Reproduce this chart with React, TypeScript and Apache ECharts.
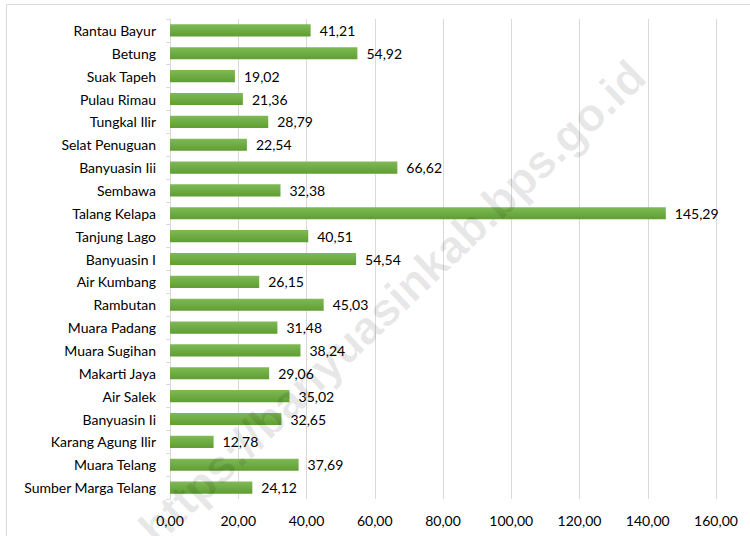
import React, { useEffect, useRef } from "react";
import * as echarts from "echarts";

const categories = [
  "Rantau Bayur", "Betung", "Suak Tapeh", "Pulau Rimau", "Tungkal Ilir",
  "Selat Penuguan", "Banyuasin Iii", "Sembawa", "Talang Kelapa", "Tanjung Lago",
  "Banyuasin I", "Air Kumbang", "Rambutan", "Muara Padang", "Muara Sugihan",
  "Makarti Jaya", "Air Salek", "Banyuasin Ii", "Karang Agung Ilir", "Muara Telang",
  "Sumber Marga Telang",
];
const values = [
  41.21, 54.92, 19.02, 21.36, 28.79, 22.54, 66.62, 32.38, 145.29, 40.51,
  54.54, 26.15, 45.03, 31.48, 38.24, 29.06, 35.02, 32.65, 12.78, 37.69, 24.12,
];
const xMin = 0;
const xMax = 160;
const xStep = 20;
const watermark = "https://banyuasinkab.bps.go.id";

const fmt = (v: number) => v.toFixed(2).replace(".", ",");
const FONT = "Lato, 'Noto Sans', sans-serif";

export default function App() {
  const ref = useRef<HTMLDivElement>(null);
  useEffect(() => {
    document.body.style.margin = "0";
    const chart = echarts.init(ref.current!, null, { renderer: "svg" });
    chart.setOption({
      animation: false,
      backgroundColor: "#ffffff",
      grid: { left: 170, right: 34, top: 19, bottom: 37, containLabel: false },
      xAxis: {
        type: "value",
        min: xMin,
        max: xMax,
        interval: xStep,
        axisLine: { show: false },
        axisTick: { show: false },
        splitLine: { lineStyle: { color: "#d9d9d9", width: 1 } },
        axisLabel: {
          formatter: (v: number) => fmt(v),
          color: "#000000",
          fontSize: 14,
          fontFamily: FONT,
          margin: 14,
        },
      },
      yAxis: {
        type: "category",
        data: categories,
        inverse: true,
        axisLine: { show: true, lineStyle: { color: "#d9d9d9" } },
        axisTick: { show: true, length: 4, lineStyle: { color: "#d9d9d9" } },
        axisLabel: {
          color: "#000000",
          fontSize: 14,
          fontFamily: FONT,
          margin: 14,
        },
      },
      series: [
        {
          type: "bar",
          data: values,
          barCategoryGap: "47%",
          itemStyle: {
            color: new echarts.graphic.LinearGradient(0, 0, 0, 1, [
              { offset: 0, color: "#7fba55" },
              { offset: 1, color: "#5f9e32" },
            ]),
          },
          label: {
            show: true,
            position: "right",
            distance: 9,
            formatter: (p: any) => fmt(p.value),
            color: "#000000",
            fontSize: 14,
            fontFamily: FONT,
          },
        },
      ],
      graphic: [
        {
          type: "rect",
          left: 4,
          top: 2,
          shape: { width: 760, height: 560 },
          style: { fill: "none", stroke: "#d9d9d9", lineWidth: 1 },
          silent: true,
          z: -1,
        },
        {
          type: "text",
          x: 392,
          y: 302,
          rotation: 0.76,
          z: 100,
          silent: true,
          style: {
            text: watermark,
            fill: "rgba(0,0,0,0.09)",
            font: "bold 46px 'Liberation Sans', Arial, sans-serif",
            align: "center",
            verticalAlign: "middle",
          },
        },
      ],
    });
    return () => chart.dispose();
  }, []);
  return (
    <div
      ref={ref}
      style={{ position: "absolute", left: 0, top: 0, width: 750, height: 536 }}
    />
  );
}
